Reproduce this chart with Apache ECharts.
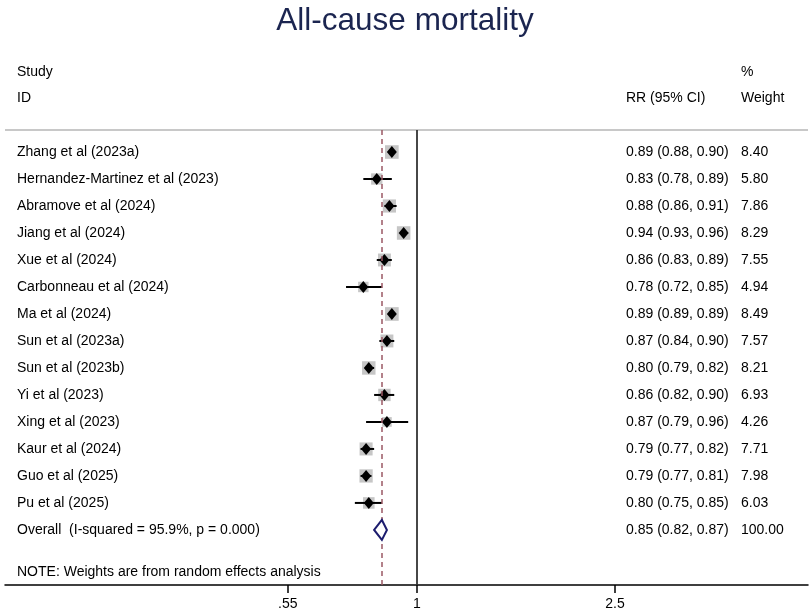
<!DOCTYPE html>
<html>
<head>
<meta charset="utf-8">
<script src="https://cdn.jsdelivr.net/npm/echarts@6/dist/echarts.min.js"></script>
<style>html,body{margin:0;padding:0;background:#fff}#c{width:810px;height:613px}</style>
</head>
<body>
<div id="c"></div>
<script>
const studies = ["Zhang et al (2023a)","Hernandez-Martinez et al (2023)","Abramove et al (2024)","Jiang et al (2024)","Xue et al (2024)","Carbonneau et al (2024)","Ma et al (2024)","Sun et al (2023a)","Sun et al (2023b)","Yi et al (2023)","Xing et al (2023)","Kaur et al (2024)","Guo et al (2025)","Pu et al (2025)"];
const rr   = [0.89,0.83,0.88,0.94,0.86,0.78,0.89,0.87,0.80,0.86,0.87,0.79,0.79,0.80];
const lo   = [0.88,0.78,0.86,0.93,0.83,0.72,0.89,0.84,0.79,0.82,0.79,0.77,0.77,0.75];
const hi   = [0.90,0.89,0.91,0.96,0.89,0.85,0.89,0.90,0.82,0.90,0.96,0.82,0.81,0.85];
const weights = [8.40,5.80,7.86,8.29,7.55,4.94,8.49,7.57,8.21,6.93,4.26,7.71,7.98,6.03];
const overallLabel = "Overall  (I-squared = 95.9%, p = 0.000)";
const overall = {rr:0.85, lo:0.82, hi:0.87, weight:100.00};
const tickValues = [0.55, 1, 2.5];
const tickLabels = [".55", "1", "2.5"];

const FONT = '"Liberation Sans", Arial, Helvetica, sans-serif';
const FS = 14;
const chart = echarts.init(document.getElementById('c'));

const studyData = studies.map((s,i)=>[rr[i], i, lo[i], hi[i], weights[i]]);
const overallData = [[overall.rr, studies.length, overall.lo, overall.hi, overall.weight]];
const ciText = (a,b,c)=> a.toFixed(2)+" ("+b.toFixed(2)+", "+c.toFixed(2)+")";

function textEl(x,y,t){
  return {type:'text', style:{x:x, y:y, text:t, font:FS+'px '+FONT, fill:'#000', textVerticalAlign:'middle'}};
}

chart.setOption({
  animation:false,
  title:{text:'All-cause mortality', left:'center', top:0,
    textStyle:{fontFamily:FONT, fontSize:31.5, fontWeight:'normal', color:'#1b2550'}},
  graphic:[
    {type:'text', left:17, top:65, style:{text:'Study', font:FS+'px '+FONT, fill:'#000'}},
    {type:'text', left:17, top:91, style:{text:'ID', font:FS+'px '+FONT, fill:'#000'}},
    {type:'text', left:626, top:91, style:{text:'RR (95% CI)', font:FS+'px '+FONT, fill:'#000'}},
    {type:'text', left:741, top:65, style:{text:'%', font:FS+'px '+FONT, fill:'#000'}},
    {type:'text', left:741, top:91, style:{text:'Weight', font:FS+'px '+FONT, fill:'#000'}},
    {type:'line', shape:{x1:5,y1:130,x2:808,y2:130}, style:{stroke:'#c8c8c8', lineWidth:2}},
    {type:'text', left:17, top:565, style:{text:'NOTE: Weights are from random effects analysis', font:FS+'px '+FONT, fill:'#000'}}
  ],
  grid:{left:5, right:2, top:130, bottom:28},
  xAxis:{type:'log', logBase:10, min:0.1485, max:6.11,
    axisLine:{show:true, onZero:false, lineStyle:{color:'#000', width:1.5}},
    axisTick:{show:true, length:8, inside:false, customValues:tickValues, lineStyle:{color:'#000', width:1.5}},
    axisLabel:{show:true, customValues:tickValues, margin:12, fontFamily:FONT, fontSize:FS, color:'#000',
      formatter:(v)=>{const k=tickValues.findIndex(t=>Math.abs(t-v)<1e-9); return k>=0?tickLabels[k]:'';}},
    splitLine:{show:false}},
  yAxis:{type:'value', inverse:true, min:-0.815, max:16.04, show:false},
  series:[
    {type:'custom', name:'studies', data:studyData,
      renderItem:(params, api)=>{
        const i = params.dataIndex;
        const c = api.coord([api.value(0), api.value(1)]);
        const l = api.coord([api.value(2), api.value(1)]);
        const h = api.coord([api.value(3), api.value(1)]);
        const side = 4.7*Math.sqrt(api.value(4));
        const y = c[1];
        return {type:'group', children:[
          {type:'rect', shape:{x:c[0]-side/2, y:y-side/2, width:side, height:side}, style:{fill:'#c6c6c6'}},
          {type:'line', shape:{x1:l[0], y1:y, x2:h[0], y2:y}, style:{stroke:'#000', lineWidth:2}},
          {type:'polygon', shape:{points:[[c[0]-5,y],[c[0],y-6],[c[0]+5,y],[c[0],y+6]]}, style:{fill:'#000'}},
          textEl(17, y, studies[i]),
          textEl(626, y, ciText(rr[i], lo[i], hi[i])),
          textEl(741, y, weights[i].toFixed(2))
        ]};
      },
      markLine:{silent:true, symbol:'none', label:{show:false},
        data:[
          {xAxis:1, lineStyle:{color:'#333', width:1.8, type:'solid'}},
          {xAxis:overall.rr, lineStyle:{color:'#9a5864', width:1.5, type:[5,4]}}
        ]}
    },
    {type:'custom', name:'overall', data:overallData, z:5,
      renderItem:(params, api)=>{
        const c = api.coord([api.value(0), api.value(1)]);
        const l = api.coord([api.value(2), api.value(1)]);
        const h = api.coord([api.value(3), api.value(1)]);
        const y = c[1];
        return {type:'group', children:[
          {type:'polygon', shape:{points:[[l[0],y],[c[0],y-10],[h[0],y],[c[0],y+10]]}, style:{fill:'#fff', stroke:'#1c1c6e', lineWidth:2}},
          textEl(17, y, overallLabel),
          textEl(626, y, ciText(overall.rr, overall.lo, overall.hi)),
          textEl(741, y, overall.weight.toFixed(2))
        ]};
      }
    }
  ]
});
</script>
</body>
</html>
